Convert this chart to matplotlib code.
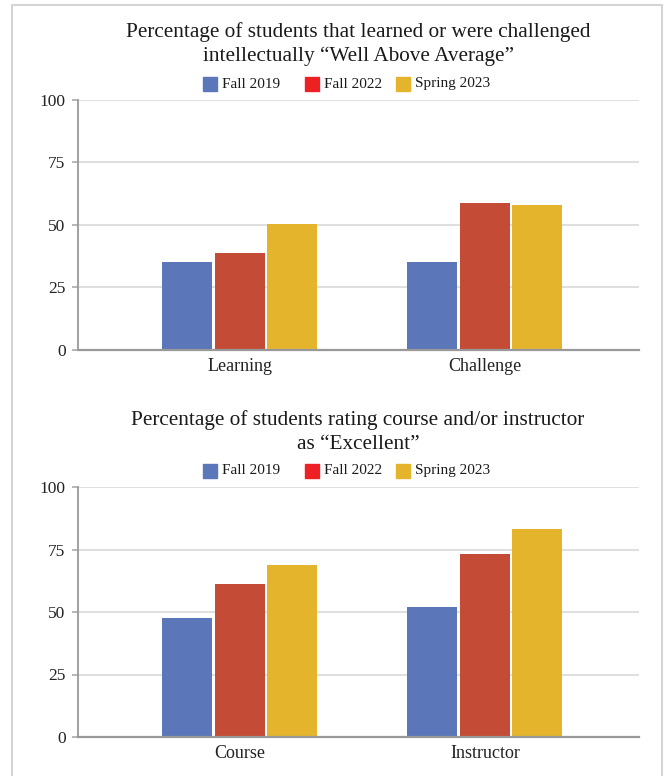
import matplotlib
matplotlib.use("Agg")
import matplotlib.pyplot as plt
from matplotlib.patches import Rectangle
import numpy as np

plt.rcParams['font.family'] = ['Liberation Serif', 'DejaVu Serif']

series = ["Fall 2019", "Fall 2022", "Spring 2023"]
bar_colors = ["#5b76b9", "#c44b35", "#e4b42d"]
legend_colors = ["#5b76b9", "#ed2024", "#e4b42d"]

title_top = "Percentage of students that learned or were challenged\nintellectually \u201cWell Above Average\u201d"
cats_top = ["Learning", "Challenge"]
fall2019_top = [35.2, 35.2]
fall2022_top = [38.8, 58.8]
spring2023_top = [50.4, 58.0]

title_bottom = "Percentage of students rating course and/or instructor\nas \u201cExcellent\u201d"
cats_bottom = ["Course", "Instructor"]
fall2019_bottom = [47.5, 51.9]
fall2022_bottom = [61.1, 73.1]
spring2023_bottom = [68.7, 83.1]

yticks = [0, 25, 50, 75, 100]

W, H = 667, 776
fig = plt.figure(figsize=(W / 100, H / 100), dpi=100)

# light frame around the page
fig.patches.append(Rectangle((12 / W, -0.01), (662 - 12) / W, (H - 5) / H + 0.01,
                             transform=fig.transFigure, fill=False,
                             edgecolor="#d4d4d4", linewidth=1.5))


def px_axes(left, top, right, bottom):
    return fig.add_axes([left / W, 1 - bottom / H, (right - left) / W, (bottom - top) / H])


def draw_panel(ax, cats, values, title, title_y, legend_y):
    x = np.arange(len(cats))
    offsets = [-0.216, 0.0, 0.213]
    for vals, off, col in zip(values, offsets, bar_colors):
        ax.bar(x + off, vals, width=0.202, color=col, zorder=3)
    ax.set_xlim(-0.661, 1.629)
    ax.set_ylim(0, 100)
    ax.set_yticks(yticks)
    ax.set_yticklabels([str(t) for t in yticks], fontsize=12.5, color="#222222")
    ax.set_xticks(x)
    ax.set_xticklabels(cats, fontsize=13, color="#222222")
    ax.tick_params(axis="x", length=0, pad=6)
    ax.tick_params(axis="y", length=4, width=1.2, color="#aaaaaa", pad=5)
    ax.grid(axis="y", color="#dcdcdc", linewidth=1.3, zorder=0)
    for s in ["top", "right"]:
        ax.spines[s].set_visible(False)
    ax.spines["left"].set_color("#999999")
    ax.spines["left"].set_linewidth(1.3)
    ax.spines["bottom"].set_color("#999999")
    ax.spines["bottom"].set_linewidth(1.6)
    ax.spines["bottom"].set_zorder(4)

    fig.text(358 / W, 1 - title_y / H, title, ha="center", va="center",
             fontsize=15.3, color="#1a1a1a", linespacing=1.3)

    # legend row
    sq = 14
    items = [(203, series[0]), (305, series[1]), (396, series[2])]
    for (lx, lab), col in zip(items, legend_colors):
        fig.patches.append(Rectangle((lx / W, 1 - (legend_y + sq / 2) / H), sq / W, sq / H,
                                     transform=fig.transFigure, color=col))
        fig.text((lx + sq + 5) / W, 1 - legend_y / H, lab, ha="left", va="center",
                 fontsize=11, color="#1a1a1a")


ax1 = px_axes(78, 100, 639, 350)
draw_panel(ax1, cats_top, [fall2019_top, fall2022_top, spring2023_top], title_top, 44, 84)

ax2 = px_axes(78, 487, 639, 737)
draw_panel(ax2, cats_bottom, [fall2019_bottom, fall2022_bottom, spring2023_bottom],
           title_bottom, 432, 471)

fig.savefig("out.png", dpi=100, facecolor="white")
